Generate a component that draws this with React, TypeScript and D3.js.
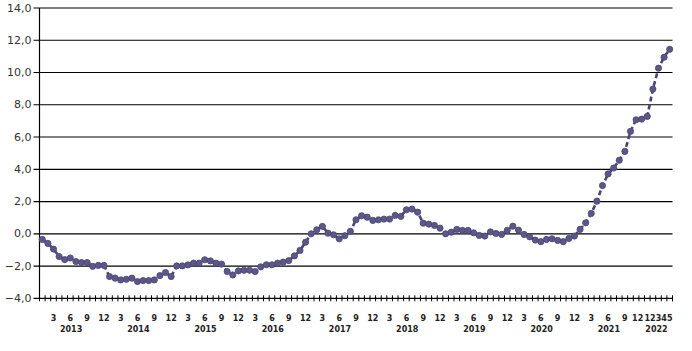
import React from 'react';
import * as d3 from 'd3';

const years = [2013, 2014, 2015, 2016, 2017, 2018, 2019, 2020, 2021, 2022];
const v2013 = [-0.35, -0.6, -0.95, -1.41, -1.6, -1.5, -1.72, -1.78, -1.78, -2.02, -1.96, -1.96];
const v2014 = [-2.65, -2.75, -2.86, -2.82, -2.75, -2.96, -2.9, -2.9, -2.86, -2.59, -2.4, -2.65];
const v2015 = [-1.99, -1.99, -1.93, -1.82, -1.82, -1.61, -1.68, -1.82, -1.88, -2.34, -2.55, -2.3];
const v2016 = [-2.26, -2.26, -2.34, -2.05, -1.92, -1.92, -1.82, -1.76, -1.66, -1.37, -1.03, -0.52];
const v2017 = [0.0, 0.25, 0.46, 0.04, -0.06, -0.31, -0.12, 0.15, 0.87, 1.12, 1.03, 0.83];
const v2018 = [0.87, 0.91, 0.91, 1.14, 1.08, 1.49, 1.53, 1.34, 0.66, 0.6, 0.52, 0.35];
const v2019 = [0.0, 0.1, 0.27, 0.21, 0.21, 0.06, -0.1, -0.14, 0.12, 0.02, -0.04, 0.21];
const v2020 = [0.47, 0.23, -0.04, -0.19, -0.39, -0.49, -0.35, -0.31, -0.41, -0.49, -0.29, -0.14];
const v2021 = [0.27, 0.68, 1.26, 2.02, 2.99, 3.71, 4.08, 4.56, 5.11, 6.35, 7.07, 7.11];
const v2022 = [7.28, 8.97, 10.27, 10.95, 11.44];
const seriesByYear = [v2013, v2014, v2015, v2016, v2017, v2018, v2019, v2020, v2021, v2022];

const yTicks = [-4, -2, 0, 2, 4, 6, 8, 10, 12, 14];
const quarterMonths = [3, 6, 9, 12];

type Pt = { year: number; month: number; value: number; key: string; yearIdx: number };

const points: Pt[] = years.flatMap((yr, i) =>
  seriesByYear[i].map((v, m) => ({ year: yr, month: m + 1, value: v, key: `${yr}-${m + 1}`, yearIdx: i }))
);

export default function App() {
  const W = 692, H = 351;
  const left = 39.5, right = 672.5, top = 8, bottom = 298.3;
  const x = d3.scaleBand<string>().domain(points.map(p => p.key)).range([left, right]).padding(0);
  const y = d3.scaleLinear().domain([-4, 14]).range([bottom, top]);
  const bw = x.bandwidth();
  const cx = (p: Pt) => (x(p.key) as number) + bw / 2;
  const line = d3.line<Pt>().x(cx).y(p => y(p.value));
  const lastYearIdx = years.length - 1;

  const monthLabels = points.filter(p =>
    p.yearIdx === lastYearIdx ? true : quarterMonths.includes(p.month)
  );

  const fontAxis = "'DejaVu Sans', Verdana, sans-serif";

  return (
    <svg width={W} height={H} style={{ position: 'absolute', left: 0, top: 0, background: '#fff' }}>
      <rect x={0} y={0} width={W} height={H} fill="#fff" />
      {yTicks.map(t => (
        <line key={'g' + t} x1={left - 6} x2={right} y1={y(t)} y2={y(t)} stroke="#000" strokeWidth={1.2} />
      ))}
      <line x1={left} x2={left} y1={top} y2={bottom} stroke="#000" strokeWidth={1.2} />
      {points.map(p => (
        <line key={'t' + p.key} x1={x(p.key) as number} x2={x(p.key) as number} y1={bottom - 3} y2={bottom + 3} stroke="#000" strokeWidth={1} />
      ))}
      <line x1={right} x2={right} y1={bottom - 3} y2={bottom + 3} stroke="#000" strokeWidth={1} />
      {yTicks.map(t => (
        <text key={'yl' + t} x={left - 8} y={y(t)} textAnchor="end" dominantBaseline="central"
          fontFamily={fontAxis} fontSize={11} fill="#333">
          {d3.format('.1f')(t).replace('.', ',')}
        </text>
      ))}
      {monthLabels.map(p => {
        const next = points.find(q => q.yearIdx === p.yearIdx + 1 && q.month === 1);
        const crowded = p.month === 12 && next && p.yearIdx + 1 === lastYearIdx;
        return (
          <text key={'ml' + p.key} x={cx(p) - (crowded ? 4 : 0)} y={318} textAnchor="middle" dominantBaseline="central"
            fontFamily={fontAxis} fontSize={8} fontWeight="bold" fill="#222">
            {p.month}
          </text>
        );
      })}
      {years.map((yr, i) => {
        const pts = points.filter(p => p.yearIdx === i);
        const x0 = x(pts[0].key) as number;
        const x1 = (x(pts[pts.length - 1].key) as number) + bw;
        return (
          <text key={'yr' + yr} x={(x0 + x1) / 2 - 2} y={329.5} textAnchor="middle" dominantBaseline="central"
            fontFamily={fontAxis} fontSize={8} fontWeight="bold" fill="#222">
            {yr}
          </text>
        );
      })}
      <path d={line(points) || ''} fill="none" stroke="#4a4574" strokeWidth={2.6} strokeDasharray="5,3" />
      {points.map(p => (
        <circle key={'c' + p.key} cx={cx(p)} cy={y(p.value)} r={3.1} fill="#5d5789" stroke="#4a4574" strokeWidth={0.8} />
      ))}
    </svg>
  );
}
